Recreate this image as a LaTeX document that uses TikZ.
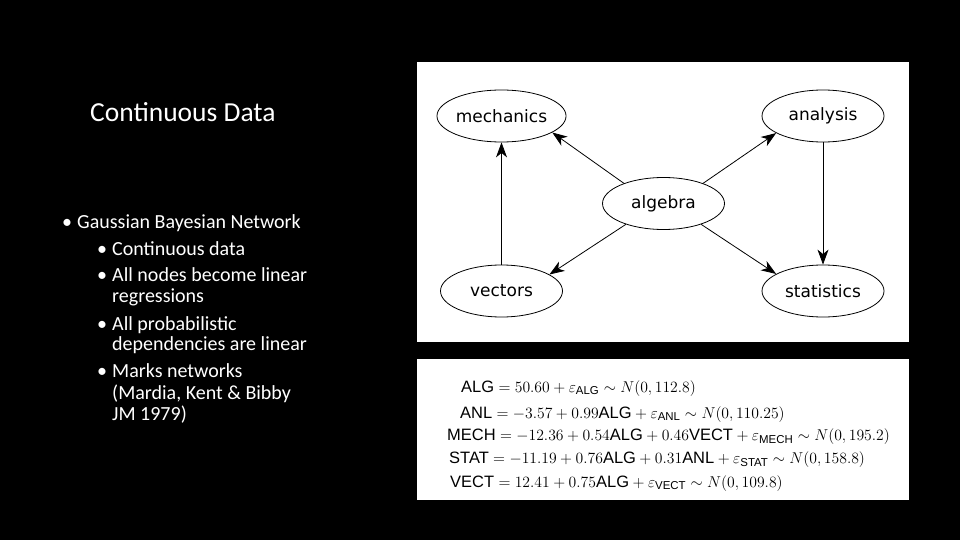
\documentclass[tikz,border=0pt]{standalone}
\usepackage{amsmath}
\usepackage[no-math]{fontspec}
\setmainfont{Carlito}
\newfontfamily\dvs{DejaVu Sans}
\newfontfamily\hv[Scale=1.05]{Liberation Sans}
\usetikzlibrary{arrows.meta,shapes.geometric}
\newcommand{\tv}[1]{\text{\hv #1}}
\newcommand{\eqn}[1]{\scalebox{1.09}{$#1$}}
\begin{document}
\begin{tikzpicture}[x=1pt,y=-1pt,
  bn/.style={draw=black,ellipse,line width=0.8pt,minimum width=122pt,minimum height=52pt,inner sep=0pt,font=\dvs\fontsize{17}{19}\selectfont},
  edge/.style={line width=0.8pt,-{Stealth[length=15pt,width=11pt,inset=4.5pt]}},
  ln/.style={anchor=base west,inner sep=0pt,text=white,font=\fontsize{20}{22}\selectfont},
  eq/.style={anchor=base west,inner sep=0pt,font=\fontsize{14.4}{17}\selectfont}]
\useasboundingbox (0,0) rectangle (960,540);
\fill[black] (0,0) rectangle (960,540);
\fill[white] (417,62) rectangle (909,342);
\fill[white] (417,359) rectangle (909,500);
% left text
\node[anchor=base west,inner sep=0pt,text=white,font=\fontsize{27.5}{30}\selectfont] (title) at (90,122) {Continuous Data};
\node[ln] (b1) at (62,228.3) {•};
\node[ln] (t1) at (77,228.3) {Gaussian Bayesian Network};
\node[ln] (b2) at (97,255) {•};
\node[ln] (t2) at (112,255) {Continuous data};
\node[ln] (b3) at (97,281.7) {•};
\node[ln] (t3) at (112,281.7) {All nodes become linear};
\node[ln] (t3b) at (112,302.7) {regressions};
\node[ln] (b4) at (97,330) {•};
\node[ln] (t4) at (112,330) {All probabilistic};
\node[ln] (t4b) at (112,350.7) {dependencies are linear};
\node[ln] (b5) at (97,377.3) {•};
\node[ln] (t5) at (112,377.3) {Marks networks};
\node[ln] (t5b) at (112,399.3) {(Mardia, Kent \& Bibby};
\node[ln] (t5c) at (112,420) {JM 1979)};
% graph
\node[bn] (mech) at (501.5,116) {mechanics};
\node[bn] (anl) at (823,116) {analysis};
\node[bn] (alg) at (663.5,203.5) {algebra};
\node[bn] (vec) at (501.5,291) {vectors};
\node[bn] (stat) at (823,291) {statistics};
\draw[edge] (alg.153) -- (mech.-18);
\draw[edge] (alg.27) -- (anl.200);
\draw[edge] (alg.209) -- (vec.19);
\draw[edge] (alg.-29) -- (stat.160);
\draw[edge] (vec.north) -- (mech.south);
\draw[edge] (anl.south) -- (stat.north);
% equations
\node[eq] (e1) at (461,392) {\eqn{\tv{ALG} = 50.60 + \varepsilon_{\tv{ALG}} \sim N(0,112.8)}};
\node[eq] (e2) at (460,418) {\eqn{\tv{ANL} = -3.57 + 0.99\tv{ALG} + \varepsilon_{\tv{ANL}} \sim N(0,110.25)}};
\node[eq] (e3) at (447,440.5) {\eqn{\tv{MECH} = -12.36 + 0.54\tv{ALG} + 0.46\tv{VECT} + \varepsilon_{\tv{MECH}} \sim N(0,195.2)}};
\node[eq] (e4) at (449,463.5) {\eqn{\tv{STAT} = -11.19 + 0.76\tv{ALG} + 0.31\tv{ANL} + \varepsilon_{\tv{STAT}} \sim N(0,158.8)}};
\node[eq] (e5) at (450,487) {\eqn{\tv{VECT} = 12.41 + 0.75\tv{ALG} + \varepsilon_{\tv{VECT}} \sim N(0,109.8)}};
\end{tikzpicture}
\end{document}
